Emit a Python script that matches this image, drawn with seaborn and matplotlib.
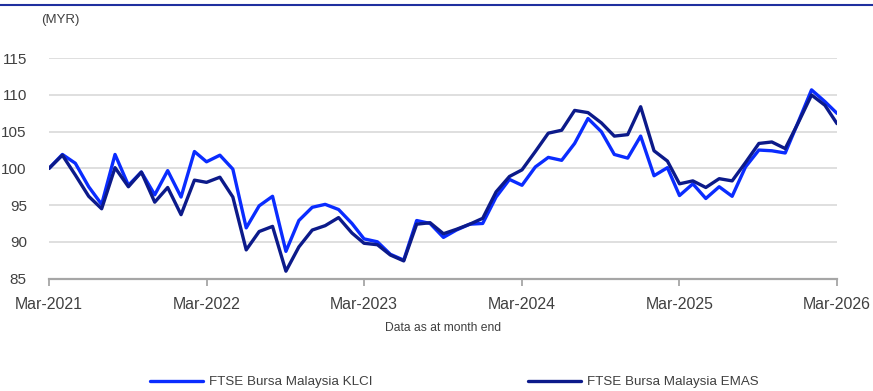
import matplotlib
matplotlib.use("Agg")
import matplotlib.pyplot as plt
import matplotlib.dates as mdates
from matplotlib.lines import Line2D
import numpy as np
import pandas as pd
import seaborn as sns

# ---- data ----
months = pd.date_range("2021-03-01", periods=61, freq="MS")
klci = [100.0, 101.9, 100.7, 97.5, 95.1, 101.9, 97.7, 99.5, 96.4, 99.7, 96.1,
        102.3, 100.9, 101.8, 99.9, 91.9, 94.9, 96.2, 88.7, 92.9, 94.7, 95.1, 94.4, 92.5,
        90.4, 90.0, 88.3, 87.5, 92.9, 92.5, 90.6, 91.6, 92.4, 92.5, 96.1, 98.5,
        97.7, 100.2, 101.5, 101.1, 103.4, 106.8, 105.0, 101.9, 101.4, 104.4, 99.0, 100.1,
        96.3, 97.9, 95.9, 97.5, 96.2, 100.2, 102.5, 102.4, 102.1, 106.3, 110.7, 109.1, 107.5]
emas = [100.0, 101.8, 99.1, 96.2, 94.5, 100.1, 97.5, 99.5, 95.4, 97.4, 93.7,
        98.4, 98.1, 98.8, 96.1, 88.9, 91.4, 92.1, 86.0, 89.3, 91.6, 92.2, 93.3, 91.2,
        89.8, 89.6, 88.2, 87.4, 92.4, 92.6, 91.1, 91.7, 92.4, 93.2, 96.8, 98.9,
        99.8, 102.3, 104.8, 105.2, 107.9, 107.6, 106.2, 104.4, 104.6, 108.4, 102.4, 101.0,
        97.9, 98.3, 97.4, 98.6, 98.3, 100.8, 103.4, 103.6, 102.7, 106.2, 110.0, 108.6, 106.1]
series_names = ["FTSE Bursa Malaysia KLCI", "FTSE Bursa Malaysia EMAS"]
y_ticks = [85, 90, 95, 100, 105, 110, 115]

df = pd.DataFrame({
    "date": list(months) * 2,
    "value": klci + emas,
    "series": [series_names[0]] * len(klci) + [series_names[1]] * len(emas),
})

sns.set_theme(style="white")
plt.rcParams["font.family"] = ["Liberation Sans", "DejaVu Sans"]

W, H = 873, 391
fig = plt.figure(figsize=(W / 100, H / 100), dpi=100)
ax = fig.add_axes([49 / W, 1 - 278.5 / H, (837 - 49) / W, (278.5 - 58.3) / H])

palette = {series_names[0]: "#0a2cff", series_names[1]: "#0c1a8a"}
sns.lineplot(data=df, x="date", y="value", hue="series", palette=palette,
             hue_order=series_names, linewidth=2.4, ax=ax, legend=True)

ax.set_xlim(months[0], months[-1])
ax.set_ylim(85, 115)
ax.set_yticks(y_ticks)
ax.set_yticklabels([str(v) for v in y_ticks])
ax.set_xticks([months[i] for i in range(0, 61, 12)])
ax.xaxis.set_major_formatter(mdates.DateFormatter("%b-%Y"))
ax.set_xlabel("")
ax.set_ylabel("")

ax.grid(axis="y", color="#d9d9d9", linewidth=1.2)
ax.grid(axis="x", visible=False)
for s in ["left", "right", "top"]:
    ax.spines[s].set_visible(False)
ax.spines["bottom"].set_color("#a6a6a6")
ax.spines["bottom"].set_linewidth(1.6)
ax.tick_params(axis="x", which="major", bottom=True, length=5, width=1.3,
               color="#a6a6a6", labelsize=11.4, labelcolor="#404040", pad=8)
ax.tick_params(axis="y", left=False, labelsize=11, labelcolor="#404040", pad=10)
for lab in ax.get_yticklabels():
    lab.set_horizontalalignment("right")

fig.text(60 / W, 1 - 20 / H, "(MYR)", ha="center", va="center",
         fontsize=9.5, color="#404040")
fig.text(443 / W, 1 - 328 / H, "Data as at month end", ha="center", va="center",
         fontsize=8.7, color="#404040")

# top rule
fig.add_artist(Line2D([0, 1], [1 - 5 / H, 1 - 5 / H], transform=fig.transFigure,
                      color="#1f2f9f", linewidth=1.5))

handles, labels = ax.get_legend_handles_labels()
ax.legend(handles, labels, ncol=2, frameon=False, fontsize=9.6,
          loc="center left", bbox_to_anchor=(150 / W, 1 - 382 / H),
          bbox_transform=fig.transFigure, borderpad=0, borderaxespad=0,
          handlelength=4.0, handletextpad=0.45, columnspacing=11.6,
          labelcolor="#404040")

fig.savefig("out.png", dpi=100)
